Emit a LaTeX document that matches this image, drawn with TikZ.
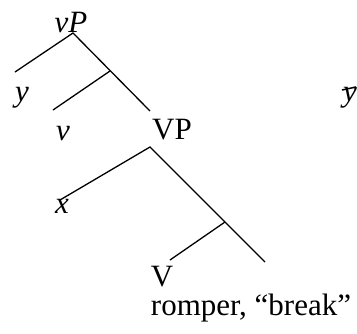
\documentclass[tikz,border=0pt]{standalone}
\usepackage{fontspec}
\setmainfont{Liberation Serif}
\begin{document}
\begin{tikzpicture}[x=1pt,y=-1pt,
  lbl/.style={inner sep=0pt,font=\fontsize{31}{36}\selectfont},
  ilbl/.style={lbl,font=\fontsize{31}{36}\selectfont\itshape},
  branch/.style={line width=1.3pt}]
\clip (0,0) rectangle (357,333);
\useasboundingbox (0,0) rectangle (357,333);
% labels
\node[ilbl] (vP) at (71,22) {vP};
\node[ilbl] (y) at (22,98) {y};
\node[ilbl] (v) at (63,134) {v};
\node[lbl] (VP) at (172,130) {VP};
\node[ilbl] (yb) at (350,98) {y};
\node[ilbl] (x) at (62,206) {x};
\node[lbl] (V) at (162,277) {V};
\node[lbl] (romper) at (251,308) {romper, “break”};
% branch points
\coordinate (a1) at (73,33);
\coordinate (a1l) at (15,72);
\coordinate (a1r) at (150,111);
\coordinate (j1) at (110,71);
\coordinate (j1l) at (53,110);
\coordinate (a2) at (150,147);
\coordinate (a2l) at (60,200);
\coordinate (a2r) at (265,262);
\coordinate (j2) at (225,222);
\coordinate (j2l) at (170,260);
\coordinate (b1) at (342,90);
\coordinate (b2) at (356,87);
% branches
\draw[branch] (a1l) -- (a1) -- (a1r);
\draw[branch] (j1) -- (j1l);
\draw[branch] (a2l) -- (a2) -- (a2r);
\draw[branch] (j2) -- (j2l);
\draw[line width=1.5pt] (b1) -- (b2);
\end{tikzpicture}
\end{document}
